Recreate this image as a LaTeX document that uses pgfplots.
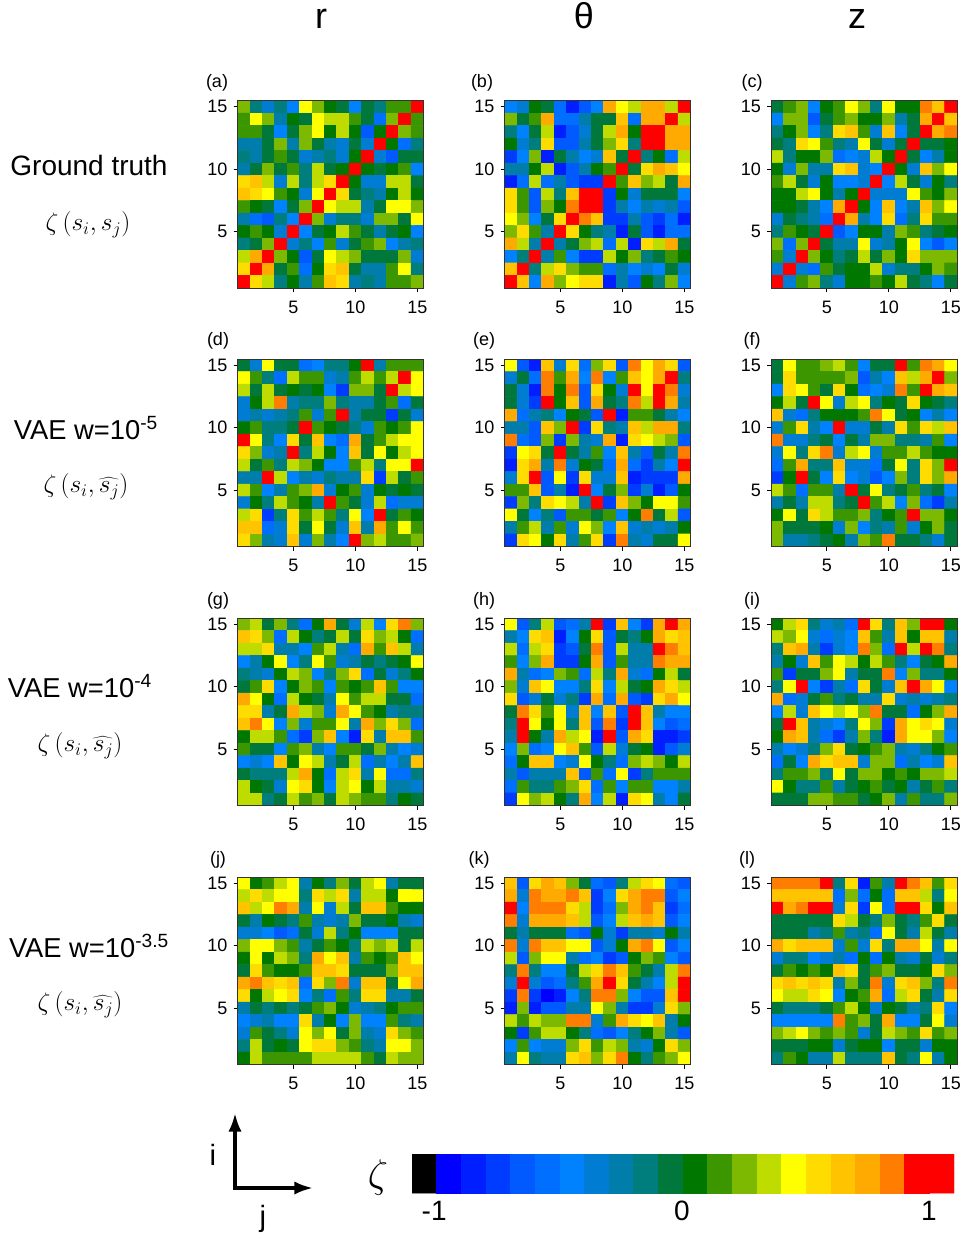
\documentclass[border=0pt]{standalone}
\usepackage{fix-cm}
\usepackage{fontspec}
\setmainfont{Liberation Sans}
\usepackage{pgfplots}
\usetikzlibrary{arrows.meta}
\pgfplotsset{compat=1.18}
\pgfplotsset{
  colormap={zeta}{rgb255=(0,0,0) rgb255=(0,0,255) rgb255=(0,30,255) rgb255=(0,60,255) rgb255=(0,90,255) rgb255=(0,110,255) rgb255=(0,130,255) rgb255=(0,125,210) rgb255=(0,125,170) rgb255=(0,125,125) rgb255=(0,120,60) rgb255=(0,120,0) rgb255=(60,150,0) rgb255=(125,185,0) rgb255=(190,220,0) rgb255=(255,255,0) rgb255=(255,220,0) rgb255=(255,195,0) rgb255=(255,170,0) rgb255=(255,125,0) rgb255=(255,0,0) rgb255=(255,0,0)},
  hm/.style={
    scale only axis, width=139.5pt, height=140.6pt,
    anchor=south west,
    xmin=0.5, xmax=15.5, ymin=0.5, ymax=15.5,
    xtick={5,10,15}, ytick={5,10,15},
    tick pos=left, tick align=outside,
    major tick length=3pt,
    tick style={black, line width=0.5pt},
    axis line style={line width=0.5pt, draw=black!80},
    tick label style={font=\fontsize{13.5}{14}\selectfont},
    /pgf/number format/assume math mode=true,
    xticklabel style={yshift=-3pt},
    yticklabel style={xshift=-1pt},
    axis on top,
    colormap name=zeta, colormap access=piecewise constant,
    point meta min=0, point meta max=22,
  },
}
\newcommand{\panel}[4]{%
\begin{axis}[hm, at={(#1*0.75pt,-#2*0.75pt)}]
\addplot[matrix plot*, mesh/cols=15, point meta=explicit]
  table[row sep=crcr, header=false,
        x expr={\coordindex-15*floor((\coordindex+0.5)/15)+1},
        y expr={15-floor((\coordindex+0.5)/15)},
        meta expr={\thisrowno{0}+0.5}] {#4};
\end{axis}}
\begin{document}
\begin{tikzpicture}
\path[use as bounding box] (0,0) rectangle (722.25pt,-929.25pt);
% ---- row 1
\panel{237.5}{288}{a}{%
13\\9\\7\\9\\6\\15\\13\\11\\10\\6\\10\\9\\12\\12\\20\\
12\\15\\13\\8\\11\\10\\15\\14\\14\\12\\10\\5\\13\\20\\12\\
12\\12\\10\\6\\10\\13\\15\\11\\14\\11\\4\\11\\20\\13\\12\\
8\\8\\10\\13\\8\\13\\10\\8\\7\\10\\7\\20\\11\\5\\9\\
9\\8\\10\\12\\10\\7\\8\\9\\7\\11\\20\\7\\4\\10\\10\\
8\\10\\13\\10\\12\\9\\14\\10\\11\\20\\11\\10\\11\\12\\6\\
16\\17\\14\\7\\14\\9\\14\\16\\20\\11\\7\\7\\14\\14\\10\\
17\\16\\15\\12\\11\\7\\15\\20\\16\\10\\9\\8\\11\\14\\11\\
12\\11\\10\\6\\10\\13\\20\\15\\14\\14\\8\\10\\15\\15\\13\\
8\\5\\4\\9\\6\\20\\13\\7\\9\\9\\7\\13\\13\\10\\15\\
11\\12\\11\\7\\20\\6\\10\\11\\14\\12\\10\\8\\10\\11\\6\\
9\\10\\13\\20\\7\\9\\6\\12\\7\\10\\12\\13\\6\\8\\9\\
14\\18\\20\\13\\11\\4\\10\\15\\14\\13\\10\\10\\10\\13\\7\\
16\\20\\18\\10\\12\\5\\11\\16\\17\\10\\8\\8\\12\\15\\9\\
20\\16\\14\\9\\11\\8\\12\\17\\16\\8\\9\\8\\12\\12\\13\\
}
\panel{504.5}{288}{b}{%
6\\7\\11\\10\\5\\2\\4\\6\\18\\15\\14\\18\\18\\14\\20\\
13\\10\\12\\18\\5\\5\\8\\10\\10\\17\\5\\18\\18\\20\\14\\
9\\6\\10\\14\\2\\4\\7\\10\\14\\18\\11\\20\\20\\18\\18\\
11\\7\\9\\16\\4\\4\\8\\10\\13\\16\\9\\20\\20\\18\\18\\
3\\6\\13\\2\\10\\8\\6\\7\\17\\10\\20\\9\\11\\5\\14\\
8\\8\\11\\14\\2\\4\\8\\11\\12\\20\\10\\16\\18\\17\\15\\
2\\5\\14\\5\\8\\4\\3\\3\\20\\12\\17\\13\\14\\10\\18\\
16\\12\\4\\14\\9\\17\\20\\20\\3\\11\\7\\10\\10\\10\\6\\
16\\12\\4\\13\\11\\19\\20\\20\\3\\8\\6\\8\\7\\8\\4\\
15\\13\\6\\10\\16\\20\\19\\17\\3\\3\\8\\4\\3\\5\\2\\
13\\16\\12\\8\\20\\16\\11\\9\\8\\2\\10\\4\\2\\5\\5\\
18\\14\\8\\20\\8\\10\\13\\14\\5\\14\\2\\16\\14\\18\\10\\
6\\9\\20\\8\\12\\6\\3\\3\\14\\11\\13\\9\\10\\12\\11\\
17\\20\\9\\14\\16\\13\\12\\12\\5\\8\\6\\7\\6\\10\\7\\
20\\17\\6\\18\\13\\15\\16\\16\\2\\8\\4\\11\\9\\13\\6\\
}
\panel{771}{288}{c}{%
10\\12\\13\\6\\11\\12\\15\\13\\9\\15\\11\\11\\19\\17\\20\\
6\\13\\13\\4\\10\\12\\13\\11\\11\\13\\8\\10\\18\\20\\17\\
9\\11\\13\\6\\9\\16\\17\\12\\7\\17\\6\\10\\20\\18\\19\\
10\\9\\16\\15\\12\\9\\8\\15\\10\\7\\10\\20\\10\\10\\11\\
14\\9\\11\\11\\13\\5\\6\\7\\14\\11\\20\\10\\6\\8\\11\\
11\\7\\13\\8\\8\\16\\17\\7\\6\\20\\11\\7\\17\\13\\15\\
12\\14\\10\\7\\11\\6\\6\\7\\20\\6\\14\\10\\7\\11\\9\\
11\\11\\14\\15\\11\\8\\11\\20\\7\\7\\7\\15\\12\\11\\13\\
11\\11\\10\\8\\6\\18\\20\\11\\6\\17\\6\\8\\17\\13\\15\\
7\\10\\9\\8\\5\\20\\18\\8\\6\\16\\5\\9\\16\\12\\12\\
9\\12\\11\\10\\20\\4\\6\\11\\11\\8\\13\\12\\9\\10\\11\\
13\\5\\13\\20\\10\\8\\8\\15\\7\\8\\11\\15\\6\\4\\6\\
12\\7\\20\\13\\11\\9\\10\\14\\10\\13\\11\\16\\13\\13\\13\\
7\\20\\7\\5\\12\\10\\11\\11\\14\\7\\9\\9\\11\\13\\12\\
20\\7\\12\\13\\9\\7\\11\\11\\12\\11\\14\\10\\9\\6\\10\\
}
% ---- row 2
\panel{237.5}{546.5}{d}{%
10\\7\\15\\10\\10\\5\\6\\9\\9\\11\\20\\8\\12\\12\\12\\
15\\12\\9\\5\\14\\12\\12\\7\\8\\12\\14\\12\\14\\20\\15\\
14\\10\\14\\10\\11\\10\\11\\6\\3\\13\\13\\10\\20\\14\\15\\
7\\11\\14\\19\\8\\9\\9\\13\\9\\8\\8\\10\\12\\5\\10\\
7\\8\\7\\8\\9\\12\\7\\12\\20\\8\\10\\10\\3\\10\\7\\
11\\12\\9\\9\\10\\20\\12\\11\\10\\9\\7\\12\\11\\12\\15\\
20\\15\\9\\6\\16\\10\\17\\6\\5\\18\\10\\12\\14\\15\\15\\
16\\13\\7\\8\\20\\9\\14\\11\\6\\17\\10\\15\\11\\14\\15\\
14\\10\\12\\9\\14\\13\\11\\6\\6\\12\\14\\9\\15\\15\\20\\
8\\8\\20\\14\\6\\8\\7\\9\\8\\8\\16\\3\\14\\10\\12\\
14\\12\\6\\8\\12\\13\\18\\7\\11\\12\\7\\11\\10\\11\\10\\
7\\11\\9\\14\\12\\11\\8\\20\\12\\10\\7\\14\\5\\7\\7\\
14\\16\\3\\9\\16\\12\\14\\12\\9\\15\\6\\20\\10\\12\\11\\
17\\17\\5\\7\\16\\10\\15\\10\\7\\17\\8\\18\\12\\15\\12\\
16\\13\\8\\7\\17\\7\\13\\8\\6\\20\\13\\14\\12\\12\\13\\
}
\panel{504.5}{546.5}{e}{%
15\\4\\2\\17\\7\\16\\5\\13\\16\\4\\19\\15\\18\\16\\4\\
7\\10\\5\\19\\12\\18\\6\\19\\6\\12\\17\\15\\18\\20\\9\\
10\\7\\2\\19\\11\\19\\4\\16\\11\\7\\20\\15\\20\\19\\7\\
10\\7\\3\\20\\11\\17\\4\\18\\10\\9\\19\\14\\20\\18\\8\\
18\\5\\8\\9\\6\\11\\10\\4\\20\\2\\12\\12\\10\\8\\6\\
8\\8\\4\\17\\13\\20\\3\\16\\9\\8\\17\\14\\18\\18\\9\\
19\\5\\4\\13\\3\\13\\8\\7\\18\\2\\16\\15\\14\\13\\4\\
3\\15\\16\\10\\20\\10\\8\\12\\6\\17\\8\\4\\10\\8\\19\\
2\\16\\18\\8\\19\\7\\11\\10\\5\\18\\5\\3\\8\\6\\20\\
7\\16\\20\\4\\15\\3\\16\\7\\7\\17\\2\\3\\3\\3\\18\\
12\\12\\17\\4\\8\\2\\20\\6\\10\\13\\3\\7\\2\\4\\11\\
3\\13\\9\\16\\15\\14\\8\\20\\3\\17\\13\\11\\15\\15\\12\\
15\\10\\6\\9\\4\\12\\12\\10\\12\\6\\11\\19\\10\\14\\4\\
8\\12\\14\\8\\12\\7\\15\\13\\6\\17\\7\\8\\7\\8\\11\\
3\\16\\15\\11\\16\\8\\12\\16\\3\\19\\8\\7\\10\\10\\15\\
}
\panel{771}{546.5}{f}{%
10\\15\\12\\12\\13\\14\\12\\6\\10\\10\\20\\12\\19\\18\\15\\
10\\16\\12\\12\\12\\12\\13\\4\\8\\6\\17\\14\\18\\20\\13\\
6\\16\\15\\12\\10\\16\\11\\5\\6\\7\\19\\12\\20\\18\\17\\
11\\14\\10\\20\\15\\7\\14\\15\\9\\11\\10\\16\\11\\10\\9\\
17\\7\\5\\9\\11\\11\\11\\12\\19\\15\\10\\11\\6\\8\\6\\
7\\12\\16\\8\\6\\20\\7\\7\\10\\8\\16\\12\\16\\14\\17\\
19\\7\\7\\9\\10\\6\\10\\8\\13\\13\\9\\9\\8\\12\\6\\
7\\15\\9\\16\\19\\7\\14\\15\\7\\12\\12\\14\\12\\11\\11\\
5\\12\\18\\9\\9\\17\\7\\7\\5\\10\\15\\9\\16\\13\\20\\
3\\11\\20\\10\\6\\16\\6\\7\\4\\6\\13\\9\\16\\13\\18\\
14\\12\\5\\12\\12\\8\\20\\10\\15\\9\\10\\12\\9\\10\\6\\
8\\10\\8\\14\\14\\9\\10\\20\\12\\14\\6\\13\\5\\3\\8\\
11\\15\\10\\16\\14\\12\\12\\13\\9\\11\\12\\20\\13\\13\\11\\
13\\10\\10\\10\\11\\7\\13\\6\\9\\8\\12\\7\\11\\13\\10\\
13\\8\\8\\9\\10\\11\\8\\13\\12\\19\\10\\10\\9\\7\\10\\
}
% ---- row 3
\panel{237.5}{805.5}{g}{%
13\\14\\10\\13\\9\\5\\11\\18\\10\\7\\14\\6\\16\\19\\13\\
17\\16\\13\\5\\14\\11\\9\\10\\14\\10\\16\\13\\14\\11\\5\\
14\\14\\16\\8\\8\\6\\12\\14\\8\\5\\18\\12\\17\\14\\8\\
6\\8\\11\\15\\6\\9\\15\\12\\7\\8\\10\\9\\10\\11\\15\\
9\\8\\7\\11\\14\\13\\6\\9\\13\\16\\5\\10\\7\\9\\11\\
10\\12\\16\\6\\11\\13\\12\\6\\12\\11\\12\\17\\12\\6\\6\\
18\\15\\11\\5\\14\\11\\10\\8\\15\\12\\14\\14\\10\\10\\5\\
16\\16\\8\\10\\18\\14\\13\\7\\18\\15\\12\\11\\8\\9\\9\\
17\\19\\15\\6\\13\\7\\12\\12\\15\\8\\18\\13\\16\\13\\5\\
11\\14\\14\\12\\5\\3\\13\\17\\6\\2\\16\\8\\17\\17\\12\\
12\\10\\10\\6\\12\\13\\8\\6\\12\\12\\10\\13\\8\\6\\7\\
6\\7\\6\\17\\11\\15\\14\\8\\10\\14\\5\\8\\6\\8\\17\\
10\\9\\9\\9\\14\\18\\11\\5\\14\\16\\8\\15\\5\\5\\9\\
14\\11\\10\\7\\15\\16\\11\\6\\14\\15\\11\\14\\8\\8\\7\\
14\\14\\9\\10\\14\\12\\13\\10\\14\\13\\12\\12\\9\\11\\10\\
}
\panel{504.5}{805.5}{h}{%
15\\4\\9\\14\\4\\5\\8\\20\\3\\17\\6\\3\\18\\20\\18\\
8\\6\\16\\17\\2\\6\\11\\16\\4\\10\\9\\11\\18\\16\\17\\
14\\5\\14\\16\\3\\4\\10\\19\\4\\14\\8\\8\\20\\19\\17\\
12\\6\\13\\18\\3\\3\\11\\18\\4\\12\\8\\8\\19\\18\\18\\
18\\8\\5\\6\\13\\12\\5\\14\\9\\18\\7\\5\\11\\14\\10\\
13\\7\\17\\15\\6\\6\\9\\16\\6\\14\\10\\11\\18\\16\\14\\
16\\4\\7\\10\\7\\9\\3\\18\\5\\18\\4\\3\\16\\18\\15\\
10\\19\\16\\12\\15\\7\\17\\6\\17\\4\\20\\17\\8\\6\\6\\
9\\20\\15\\11\\15\\9\\17\\4\\19\\3\\20\\17\\6\\4\\5\\
8\\20\\11\\8\\18\\14\\15\\2\\20\\4\\18\\16\\2\\2\\3\\
6\\13\\5\\6\\15\\17\\12\\4\\14\\7\\10\\11\\2\\4\\7\\
5\\11\\17\\17\\6\\7\\15\\11\\9\\5\\13\\14\\13\\11\\14\\
8\\4\\8\\8\\8\\17\\4\\12\\5\\15\\3\\9\\12\\12\\12\\
5\\12\\9\\9\\12\\13\\16\\5\\12\\6\\12\\12\\6\\6\\8\\
3\\15\\13\\14\\11\\9\\18\\6\\14\\2\\16\\15\\8\\6\\10\\
}
\panel{771}{805.5}{i}{%
11\\14\\16\\9\\7\\8\\5\\20\\16\\9\\17\\13\\20\\20\\11\\
14\\13\\15\\7\\5\\7\\6\\17\\12\\8\\17\\11\\17\\17\\8\\
9\\17\\18\\8\\3\\7\\6\\19\\13\\5\\20\\14\\20\\19\\9\\
8\\11\\7\\17\\12\\15\\14\\11\\14\\12\\9\\6\\10\\11\\18\\
12\\3\\10\\10\\13\\15\\8\\10\\10\\19\\6\\13\\9\\9\\11\\
9\\15\\20\\6\\3\\8\\5\\16\\10\\7\\17\\20\\18\\15\\6\\
18\\5\\7\\10\\12\\9\\10\\8\\8\\16\\7\\8\\7\\8\\9\\
6\\14\\7\\17\\15\\14\\15\\13\\19\\10\\10\\5\\11\\13\\18\\
10\\20\\17\\8\\7\\6\\9\\15\\13\\3\\18\\15\\16\\15\\7\\
11\\18\\17\\8\\5\\3\\8\\13\\9\\2\\18\\15\\15\\13\\6\\
8\\6\\7\\9\\13\\16\\10\\11\\12\\13\\8\\7\\9\\11\\12\\
5\\10\\6\\18\\16\\17\\17\\7\\13\\13\\5\\8\\6\\7\\17\\
9\\12\\12\\13\\9\\15\\10\\13\\13\\11\\12\\11\\13\\13\\14\\
15\\11\\9\\9\\12\\8\\10\\11\\12\\10\\11\\8\\10\\12\\9\\
10\\10\\10\\13\\13\\12\\12\\10\\11\\13\\8\\12\\9\\9\\13\\
}
% ---- row 4
\panel{237.5}{1064.5}{j}{%
15\\11\\12\\14\\15\\8\\11\\9\\13\\10\\14\\15\\8\\10\\10\\
14\\16\\14\\15\\15\\9\\16\\14\\16\\8\\14\\14\\11\\15\\15\\
17\\14\\15\\19\\18\\8\\15\\7\\14\\10\\17\\17\\12\\11\\11\\
10\\8\\11\\10\\9\\12\\8\\7\\8\\13\\10\\10\\11\\8\\7\\
7\\7\\6\\4\\5\\10\\7\\14\\9\\11\\6\\6\\6\\10\\10\\
13\\15\\15\\13\\12\\8\\10\\12\\11\\9\\14\\13\\14\\10\\14\\
11\\15\\11\\14\\13\\9\\18\\15\\17\\8\\12\\11\\12\\17\\15\\
10\\16\\12\\11\\11\\12\\17\\17\\16\\10\\10\\10\\13\\17\\17\\
18\\19\\17\\16\\17\\5\\16\\13\\19\\7\\17\\17\\10\\15\\18\\
16\\11\\14\\15\\16\\6\\9\\5\\12\\9\\16\\16\\8\\8\\10\\
8\\10\\9\\10\\9\\10\\12\\13\\11\\7\\8\\9\\11\\12\\12\\
6\\7\\8\\6\\6\\16\\8\\11\\6\\13\\6\\6\\12\\9\\8\\
7\\12\\10\\9\\7\\15\\13\\15\\10\\13\\8\\7\\16\\13\\12\\
9\\14\\10\\11\\10\\15\\16\\16\\13\\12\\9\\8\\15\\15\\13\\
11\\14\\12\\12\\12\\12\\14\\14\\14\\14\\12\\10\\14\\13\\13\\
}
\panel{504.5}{1064.5}{k}{%
17\\4\\16\\18\\17\\13\\10\\5\\4\\9\\14\\16\\15\\5\\4\\
18\\7\\19\\18\\18\\19\\17\\3\\6\\16\\18\\19\\19\\4\\6\\
20\\6\\19\\19\\19\\16\\14\\3\\5\\13\\18\\19\\17\\3\\5\\
19\\7\\18\\18\\18\\17\\14\\4\\6\\14\\17\\18\\17\\4\\6\\
10\\8\\10\\10\\10\\5\\4\\11\\7\\3\\8\\8\\7\\11\\8\\
19\\7\\19\\17\\17\\15\\15\\4\\7\\11\\18\\19\\15\\4\\6\\
14\\4\\13\\15\\15\\8\\5\\6\\3\\4\\11\\13\\12\\6\\4\\
9\\19\\9\\6\\6\\10\\14\\16\\19\\17\\12\\10\\8\\14\\19\\
7\\20\\7\\4\\5\\9\\12\\18\\20\\16\\10\\8\\6\\14\\20\\
3\\19\\3\\1\\2\\6\\9\\19\\19\\13\\6\\4\\4\\17\\20\\
2\\13\\2\\4\\4\\8\\8\\15\\13\\8\\3\\3\\7\\16\\13\\
14\\12\\14\\13\\13\\19\\19\\7\\12\\18\\16\\15\\17\\8\\11\\
11\\3\\12\\14\\14\\11\\9\\5\\4\\6\\9\\11\\13\\8\\4\\
6\\12\\6\\7\\7\\13\\16\\12\\14\\13\\8\\7\\11\\16\\13\\
8\\15\\9\\8\\8\\16\\17\\13\\16\\19\\11\\9\\12\\13\\15\\
}
\panel{771}{1064.5}{l}{%
19\\19\\19\\19\\20\\9\\16\\2\\12\\8\\20\\19\\17\\12\\16\\
17\\17\\17\\17\\17\\5\\13\\5\\11\\5\\17\\17\\14\\9\\15\\
20\\18\\19\\20\\20\\7\\16\\3\\15\\5\\20\\20\\16\\11\\17\\
10\\10\\10\\10\\10\\16\\14\\10\\9\\13\\10\\9\\12\\16\\10\\
10\\10\\10\\8\\9\\12\\8\\9\\5\\15\\10\\8\\14\\10\\8\\
18\\16\\17\\17\\17\\7\\12\\7\\16\\9\\18\\18\\15\\8\\15\\
7\\9\\9\\6\\7\\8\\5\\11\\5\\11\\8\\7\\10\\7\\9\\
10\\12\\11\\12\\11\\17\\16\\10\\12\\13\\10\\10\\11\\16\\13\\
16\\17\\16\\17\\16\\8\\13\\10\\19\\7\\16\\17\\13\\9\\19\\
15\\14\\14\\16\\15\\6\\11\\12\\18\\5\\14\\16\\10\\8\\16\\
10\\9\\9\\9\\10\\12\\14\\11\\7\\11\\10\\8\\9\\16\\6\\
6\\6\\6\\6\\6\\19\\12\\13\\10\\18\\6\\6\\10\\15\\7\\
13\\14\\15\\13\\12\\13\\12\\7\\10\\14\\13\\12\\16\\12\\13\\
10\\10\\10\\11\\11\\7\\10\\11\\11\\6\\10\\10\\7\\11\\11\\
9\\12\\11\\8\\8\\14\\9\\9\\9\\17\\10\\9\\15\\8\\11\\
}
% ---- colour bar
\begin{axis}[
  scale only axis, width=406.5pt, height=29.25pt,
  anchor=south west, at={(412*0.75pt,-1193*0.75pt)},
  xmin=-0.5, xmax=21.5, ymin=-0.5, ymax=1.5,
  ytick=\empty, xtick={0.4,10.46,20.48}, xticklabels={-1,0,1},
  major tick length=0pt, axis line style={draw=none},
  tick label style={font=\fontsize{21}{22}\selectfont},
  xticklabel style={yshift=-2.5pt},
  colormap name=zeta, colormap access=piecewise constant,
  point meta min=0, point meta max=22,
]
\addplot[matrix plot*, mesh/cols=22, point meta=explicit] table[row sep=crcr, meta=c] {
x y c\\
0 0 0.5\\ 1 0 1.5\\ 2 0 2.5\\ 3 0 3.5\\ 4 0 4.5\\ 5 0 5.5\\ 6 0 6.5\\ 7 0 7.5\\ 8 0 8.5\\ 9 0 9.5\\ 10 0 10.5\\ 11 0 11.5\\ 12 0 12.5\\ 13 0 13.5\\ 14 0 14.5\\ 15 0 15.5\\ 16 0 16.5\\ 17 0 17.5\\ 18 0 18.5\\ 19 0 19.5\\ 20 0 20.5\\ 21 0 21.5\\
0 1 0.5\\ 1 1 1.5\\ 2 1 2.5\\ 3 1 3.5\\ 4 1 4.5\\ 5 1 5.5\\ 6 1 6.5\\ 7 1 7.5\\ 8 1 8.5\\ 9 1 9.5\\ 10 1 10.5\\ 11 1 11.5\\ 12 1 12.5\\ 13 1 13.5\\ 14 1 14.5\\ 15 1 15.5\\ 16 1 16.5\\ 17 1 17.5\\ 18 1 18.5\\ 19 1 19.5\\ 20 1 20.5\\ 21 1 21.5\\
};
\end{axis}
% ---- text and arrows, in reference pixels
\begin{scope}[x=0.75pt,y=-0.75pt]
\foreach \tx/\tl in {321/r,584/θ,857/z}
  \node[font=\fontsize{27}{27}\selectfont,anchor=base,inner sep=0pt] at (\tx,28) {\tl};
\foreach \tx/\ty/\tl in {217/83/(a),482/83/(b),752/83/(c),218/341/(d),484/341/(e),752/341/(f),218/601/(g),484/601/(h),752/601/(i),218/860/(j),479/860/(k),747/860/(l)}
  \node[font=\fontsize{13.5}{14}\selectfont] at (\tx,\ty) {\tl};
\node[font=\fontsize{21}{22}\selectfont] at (89,165) {Ground truth};
\node[font=\fontsize{20.5}{22}\selectfont] at (86,428) {VAE w=10\textsuperscript{-5}};
\node[font=\fontsize{20.5}{22}\selectfont] at (80,686) {VAE w=10\textsuperscript{-4}};
\node[font=\fontsize{20.5}{22}\selectfont] at (89,946) {VAE w=10\textsuperscript{-3.5}};
\node[font=\fontsize{19}{22}\selectfont,inner sep=0pt] at (88,225) {$\zeta\left(s_i,s_j\right)$};
\node[font=\fontsize{19}{22}\selectfont,inner sep=0pt] at (86,487) {$\zeta\left(s_i,\widehat{s_j}\right)$};
\node[font=\fontsize{19}{22}\selectfont,inner sep=0pt] at (80,746) {$\zeta\left(s_i,\widehat{s_j}\right)$};
\node[font=\fontsize{19}{22}\selectfont,inner sep=0pt] at (80,1005) {$\zeta\left(s_i,\widehat{s_j}\right)$};
\draw[line width=2.6pt,-{Latex[length=14pt,width=10pt]}] (235,1188) -- (235,1113);
\draw[line width=2.6pt,-{Latex[length=14pt,width=10pt]}] (233,1188) -- (313,1188);
\node[font=\fontsize{22}{22}\selectfont] at (213,1155) {i};
\node[font=\fontsize{22}{22}\selectfont] at (263,1219) {j};
\node[font=\fontsize{30}{30}\selectfont] at (378,1177) {$\zeta$};
\end{scope}
\end{tikzpicture}
\end{document}
